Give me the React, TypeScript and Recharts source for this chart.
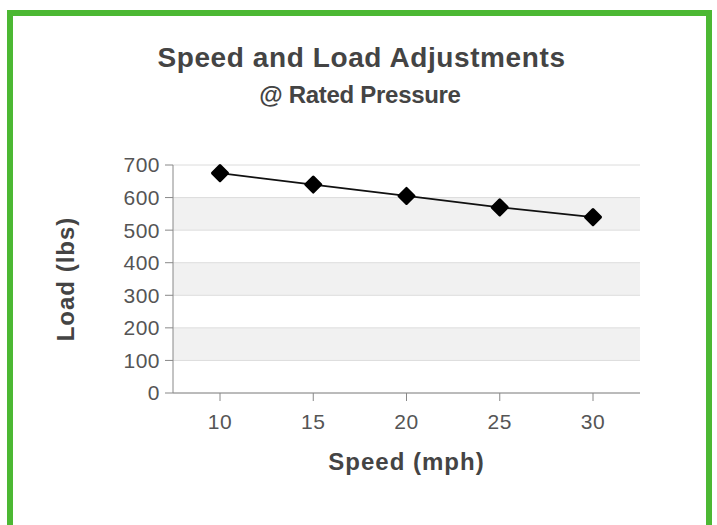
import { LineChart, Line, XAxis, YAxis, CartesianGrid, Label } from 'recharts';

const speeds = ['10', '15', '20', '25', '30'];
const loads = [675, 640, 605, 570, 540];
const loadTicks = [0, 100, 200, 300, 400, 500, 600, 700];
// alternating stripes from the top of the plot down
const stripeFills = ['#ffffff', '#f1f1f1'];

const data = speeds.map((speed, i) => ({ speed, load: loads[i] }));

const font = '"Liberation Sans", Arial, sans-serif';

function DiamondDot(props: { cx?: number; cy?: number; index?: number }) {
  const { cx, cy } = props;
  if (cx == null || cy == null) return null;
  const r = 7.5;
  return (
    <polygon
      key={props.index}
      points={`${cx},${cy - r} ${cx + r},${cy} ${cx},${cy + r} ${cx - r},${cy}`}
      fill="#000"
      stroke="#000"
      strokeWidth={3}
      strokeLinejoin="round"
    />
  );
}

export default function App() {
  return (
    <div style={{ position: 'absolute', left: 0, top: 0, width: 717, height: 525, background: '#fff', overflow: 'hidden', fontFamily: font }}>
      {/* green frame, bottom edge falls outside the picture */}
      <div
        style={{
          position: 'absolute',
          left: 7,
          top: 10,
          width: 705,
          height: 540,
          border: '6px solid #4cb833',
          boxSizing: 'border-box',
        }}
      />
      <div style={{ position: 'absolute', left: 0, width: 723, top: 41, textAlign: 'center', fontSize: 28, fontWeight: 'bold', color: '#444', lineHeight: '34px', letterSpacing: 0.6 }}>
        Speed and Load Adjustments
      </div>
      <div style={{ position: 'absolute', left: 0, width: 720, top: 82, textAlign: 'center', fontSize: 24, fontWeight: 'bold', color: '#444', lineHeight: '26px', letterSpacing: -0.3 }}>
        @ Rated Pressure
      </div>

      <div style={{ position: 'absolute', left: 0, top: 0 }}>
        <LineChart width={717} height={525} data={data} margin={{ top: 165, right: 77, left: 0, bottom: 0 }}>
          <CartesianGrid vertical={false} stroke="#dcdcdc" horizontalFill={stripeFills} fillOpacity={1} />
          <XAxis
            dataKey="speed"
            height={132}
            padding={{ left: 47, right: 47 }}
            stroke="#888"
            tickSize={8}
            tick={{ fontSize: 21, fill: '#555', fontFamily: font, letterSpacing: 0.5 }}
            tickMargin={13}
          >
            <Label
              value="Speed (mph)"
              position="insideTop"
              offset={60}
              style={{ fontSize: 24, fontWeight: 'bold', fill: '#444', letterSpacing: 1, fontFamily: font }}
            />
          </XAxis>
          <YAxis
            width={173}
            domain={[0, 700]}
            ticks={loadTicks}
            stroke="#888"
            tickSize={8}
            tickMargin={5}
            tick={{ fontSize: 21, fill: '#555', fontFamily: font, letterSpacing: 0.5 }}
          >
            <Label
              value="Load (lbs)"
              angle={-90}
              position="center"
              dx={-21}
              style={{ fontSize: 24, fontWeight: 'bold', fill: '#444', letterSpacing: 1, fontFamily: font, textAnchor: 'middle' }}
            />
          </YAxis>
          <Line
            dataKey="load"
            stroke="#111"
            strokeWidth={1.8}
            dot={<DiamondDot />}
            activeDot={false}
            isAnimationActive={false}
          />
        </LineChart>
      </div>
    </div>
  );
}
